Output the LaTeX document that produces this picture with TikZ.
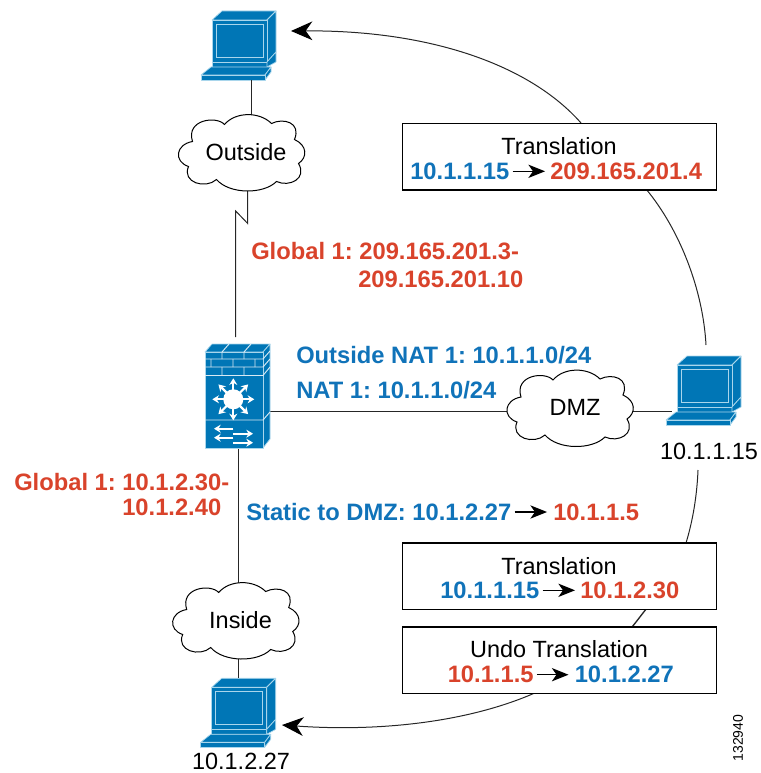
\documentclass[tikz,border=0pt]{standalone}
\usepackage{fontspec}
\setmainfont{Liberation Sans}
\usetikzlibrary{arrows.meta}
\definecolor{ciscoblue}{HTML}{0076B6}
\definecolor{edgeblue}{HTML}{A9D6EC}
\definecolor{txtblue}{HTML}{1073B9}
\definecolor{txtred}{HTML}{D9432B}
\tikzset{
  x=0.75pt,y=-0.75pt,
  wire/.style={draw=black!85,line width=0.75pt},
  bigarrow/.style={-{Stealth[length=16pt,width=14pt,inset=5pt,black]}},
  smallarrow/.style={draw=black,line width=0.9pt,-{Stealth[length=12.5pt,width=10pt,inset=3.5pt]}},
  lab/.style={font=\fontsize{17.6}{20}\selectfont,text=black,inner sep=0pt,anchor=center},
  blab/.style={font=\fontsize{17.8}{20}\selectfont\bfseries,text=txtblue,inner sep=0pt,anchor=base west},
  rlab/.style={font=\fontsize{17.8}{20}\selectfont\bfseries,text=txtred,inner sep=0pt,anchor=base west},
  infobox/.style={draw=black,line width=0.9pt,fill=white,inner sep=0pt,anchor=north west},
  face/.style={fill=ciscoblue,draw=edgeblue,line width=0.55pt,line join=round},
  fwline/.style={draw=white!85!ciscoblue,line width=0.7pt},
  whitearrow/.style={draw=white,line width=1.7pt,-{Stealth[length=5pt,width=6pt]}},
  computer/.pic={
    \path[face] (0,0) -- (10,-9) -- (64,-9) -- (55,0) -- cycle;
    \path[face] (55,0) -- (64,-9) -- (64,32) -- (55,42) -- cycle;
    \path[face] (0,0) rectangle (55,42);
    \path[draw=edgeblue,line width=0.7pt] (4,4) rectangle (51,37);
    \path[face] (0,42) rectangle (55,47);
    \path[face] (55,42) -- (64,32) -- (64,42) -- (55,47) -- cycle;
    \path[face] (-11,55) -- (-1,47) -- (59,47) -- (53,55) -- cycle;
    \path[face] (53,55) -- (59,47) -- (59,52) -- (53,60) -- cycle;
    \path[face] (-11,55) rectangle (53,60);
    \coordinate (-stem) at (39.7,60);
    \coordinate (-top) at (27,-9);
    \coordinate (-side) at (-5,46.7);
  },
  netcloud/.pic={
    \path[draw=black,line width=0.75pt,fill=white]
      (-17,-28) .. controls (-25,-37) and (-56,-33) .. (-49,-11)
      .. controls (-66,-8) and (-68,9) .. (-53,14)
      .. controls (-60,30) and (-36,37) .. (-25,27)
      .. controls (-12,42) and (22,42) .. (35,29)
      .. controls (48,35) and (66,26) .. (57,11)
      .. controls (66,5) and (66,-7) .. (53,-13)
      .. controls (60,-30) and (42,-35) .. (30,-29)
      .. controls (18,-41) and (-6,-41) .. (-17,-28) -- cycle;
  },
}
\begin{document}
\frenchspacing
\begin{tikzpicture}
\useasboundingbox (0,0) rectangle (760,773);
% connectors behind the devices
\coordinate (outsidetop) at (251.7,117);
\coordinate (outsidebot) at (247.7,188);
\coordinate (kneeA) at (247.7,223.5);
\coordinate (kneeB) at (235.7,211);
\coordinate (fwtop) at (235.7,337);
\coordinate (fwright) at (268,411.7);
\coordinate (dmzleft) at (508,411.7);
\coordinate (dmzright) at (632,411.7);
\coordinate (fwbot) at (238.7,448);
\coordinate (insidetop) at (238.7,585);
\coordinate (insidebot) at (238.7,656);

\pic (pcout) at (212,20) {computer};
\pic (pcdmz) at (677,365) {computer};
\pic (pcin) at (211.7,687.3) {computer};

\draw[wire] (pcout-stem) -- (outsidetop);
\draw[wire] (outsidebot) -- (kneeA) -- (kneeB) -- (fwtop);
\draw[wire] (fwright) -- (dmzleft);
\draw[wire] (dmzright) -- (pcdmz-side);
\draw[wire] (fwbot) -- (insidetop);
\draw[wire] (insidebot) -- (pcin-top -| insidebot);

% clouds
\pic at (241.5,152.5) {netcloud};
\pic at (570,408) {netcloud};
\pic at (235.7,620.5) {netcloud};
\node[lab] (outside) at (246,152) {Outside};
\node[lab] (dmz) at (575,407) {DMZ};
\node[lab] (inside) at (240.5,620) {Inside};

% firewall
\path[face] (205,352) -- (212,344) -- (270,344) -- (263,352) -- cycle;
\path[face] (263,352) -- (270,344) -- (270,439) -- (263,448) -- cycle;
\path[face] (205,352) rectangle (263,448);
\draw[fwline] (205,359) -- (263,359) (205,367) -- (263,367) (205,375.5) -- (263,375.5)
  (205,420) -- (263,420) (263,420) -- (270,412);
\draw[fwline] (222,352) -- (222,359) (244,352) -- (244,359)
  (211,359) -- (211,367) (233,359) -- (233,367) (255,359) -- (255,367)
  (222,367) -- (222,375) (244,367) -- (244,375)
  (222,352) -- (229,344) (244,352) -- (251,344)
  (263,359) -- (270,351) (263,367) -- (270,359) (263,375.5) -- (270,367);
\fill[white] (233.3,399.3) circle (10);
\foreach \a in {0,45,...,315}
  \draw[whitearrow] (233.3,399.3) ++(\a:9) -- ++(\a:12);
\draw[whitearrow] (233.3,428.7) -- (214,428.7);
\draw[whitearrow] (233.3,433.7) -- (253,433.7);
\draw[whitearrow] (233.3,437.7) -- (214,437.7);
\draw[whitearrow] (233.3,442.7) -- (253,442.7);

% translation arcs
\coordinate (arcAtop) at (581,123);
\coordinate (arcAbot) at (646,189);
\coordinate (arcBtop) at (706,345);
\coordinate (arcCtop) at (698,470);
\coordinate (arcCbot) at (686,543);
\coordinate (arcEtop) at (647,608);
\coordinate (arcEbot) at (632,627);
\coordinate (arcDbot) at (537,692);
\coordinate (pcoutarrow) at (291,31);
\coordinate (pcinarrow) at (282,725);
\draw[wire,bigarrow] (arcAtop) .. controls (530,65) and (430,30) .. (pcoutarrow);
\draw[wire] (arcAbot) .. controls (680,230) and (703,290) .. (arcBtop);
\draw[wire] (arcCtop) .. controls (697,495) and (693,520) .. (arcCbot);
\draw[wire,line width=1pt] (arcEtop) .. controls (642,614) and (637,621) .. (arcEbot);
\draw[wire,bigarrow] (arcDbot) .. controls (470,722) and (380,732) .. (pcinarrow);

% boxes
\node[infobox,minimum width=235.5pt,minimum height=50pt] (boxA) at (402,122.7) {};
\node[infobox,minimum width=235.5pt,minimum height=49.8pt] (boxB) at (402,542.3) {};
\node[infobox,minimum width=235.5pt,minimum height=49.8pt] (boxC) at (402,626.3) {};

% box text
\node[lab] (ttlA) at (559,146) {Translation};
\node[blab] (aSrc) at (410,179.3) {10.1.1.15};
\node[rlab] (aDst) at (550,179.3) {209.165.201.4};
\path (aSrc.base east) ++(3,-8) coordinate (aS) (aDst.base west) ++(-5,-8) coordinate (aD);
\draw[smallarrow] (aS) -- (aD);

\node[lab] (ttlB) at (559,566) {Translation};
\node[blab] (bSrc) at (440,598.3) {10.1.1.15};
\node[rlab] (bDst) at (580,598.3) {10.1.2.30};
\path (bSrc.base east) ++(3,-8) coordinate (bS) (bDst.base west) ++(-5,-8) coordinate (bD);
\draw[smallarrow] (bS) -- (bD);

\node[lab] (ttlC) at (559,649.5) {Undo Translation};
\node[rlab] (cSrc) at (447.5,682.7) {10.1.1.5};
\node[blab] (cDst) at (574.5,682.7) {10.1.2.27};
\path (cSrc.base east) ++(3,-8) coordinate (cS) (cDst.base west) ++(-6,-8) coordinate (cD);
\draw[smallarrow] (cS) -- (cD);

% network labels
\node[rlab] (g1a) at (251,259) {Global 1: 209.165.201.3-};
\node[rlab] (g1b) at (358,287) {209.165.201.10};
\node[blab] (onat) at (296,363) {Outside NAT 1: 10.1.1.0/24};
\node[blab] (nat) at (296,398) {NAT 1: 10.1.1.0/24};
\node[rlab] (g2a) at (14,490) {Global 1: 10.1.2.30-};
\node[rlab] (g2b) at (122,515) {10.1.2.40};
\node[blab] (stat) at (246,520) {Static to DMZ: 10.1.2.27};
\node[rlab] (statdst) at (553,520) {10.1.1.5};
\path (stat.base east) ++(3,-8) coordinate (sS) (statdst.base west) ++(-6,-8) coordinate (sD);
\draw[smallarrow] (sS) -- (sD);

\node[lab] (ipdmz) at (709,451) {10.1.1.15};
\node[lab] (ipin) at (241,761.5) {10.1.2.27};
\node[font=\fontsize{10.5}{12}\selectfont,inner sep=0pt,rotate=90] (figid) at (738,738) {132940};
\end{tikzpicture}
\end{document}
